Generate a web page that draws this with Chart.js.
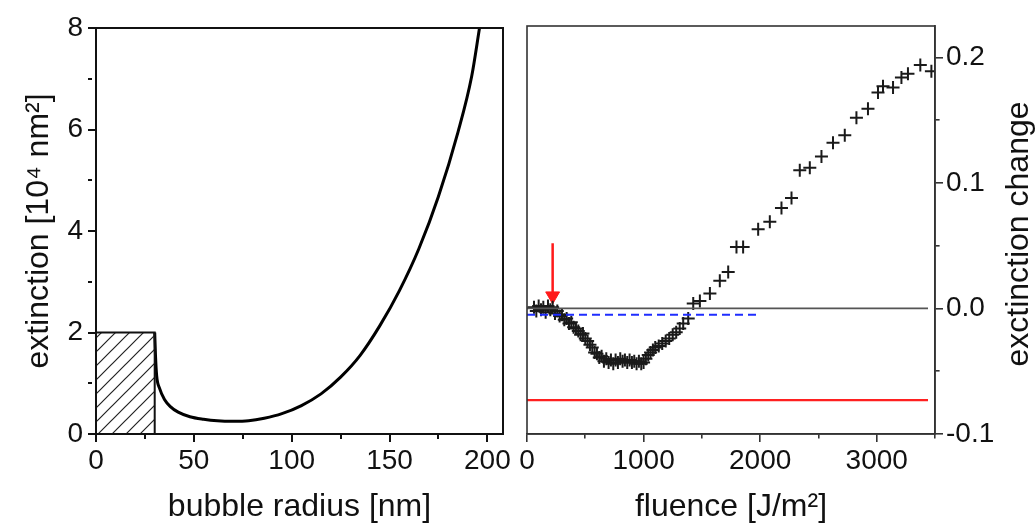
<!DOCTYPE html>
<html lang="en">
<head>
<meta charset="UTF-8">
<title>bubble extinction</title>
<script src="https://cdn.jsdelivr.net/npm/chart.js"></script>
<style>
    html, body { margin: 0; padding: 0; background: #fff; }
    #wrap { position: relative; width: 1035px; height: 528px; }
    .box { position: absolute; top: 0; height: 528px; }
    #left-box { left: 0; width: 515px; }
    #right-box { left: 515px; width: 520px; }
</style>
</head>
<body>
<div id="wrap">
    <div class="box" id="left-box"><canvas id="left-chart"></canvas></div>
    <div class="box" id="right-box"><canvas id="right-chart"></canvas></div>
</div>

<script>
    // ---- left panel: extinction vs bubble radius
    const radius     = [30, 30.4, 31, 32.5, 35, 38, 42, 48, 55, 62, 70, 78, 86, 95, 105, 115, 125, 135, 145, 155, 165, 175, 185, 192, 196];
    const extinction = [2.0, 1.55, 1.15, 0.9, 0.68, 0.54, 0.43, 0.34, 0.29, 0.26, 0.25, 0.26, 0.31, 0.40, 0.56, 0.79, 1.12, 1.55, 2.13, 2.82, 3.65, 4.68, 5.95, 7.05, 8.0];
    const boxRadius  = [0, 30, 30];
    const boxExt     = [2, 2, 0];
    const leftXTicks = [0, 25, 50, 75, 100, 125, 150, 175, 200];
    const leftYTicks = [0, 1, 2, 3, 4, 5, 6, 7, 8];

    // ---- right panel: extinction change vs fluence
    const fluence = [
        60, 80, 100, 120, 140, 160, 180, 200, 220, 240,
        260, 280, 300, 320, 340, 360, 380, 400, 420, 440,
        460, 480, 500, 520, 540, 560, 580, 600, 620, 640,
        660, 680, 700, 720, 740, 760, 780, 800, 820, 840,
        860, 880, 900, 920, 940, 960, 980, 1000, 1020, 1040,
        1060, 1080, 1100, 1130, 1160, 1190, 1220, 1250, 1280, 1310,
        1340, 1383, 1426, 1483, 1569, 1654, 1726, 1797, 1854, 1983,
        2083, 2183, 2269, 2340, 2426, 2526, 2625, 2726, 2826, 2925,
        3011, 3054, 3140, 3212, 3268, 3374, 3469
    ];
    const change = [
        0.001, -0.002, 0.002, -0.001, 0.001, -0.003, 0.002, -0.001, 0.001, -0.004,
        -0.002, -0.006, -0.005, -0.009, -0.008, -0.012, -0.011, -0.015, -0.016, -0.018,
        -0.021, -0.020, -0.024, -0.026, -0.029, -0.031, -0.035, -0.036, -0.039, -0.038,
        -0.042, -0.040, -0.043, -0.041, -0.044, -0.041, -0.043, -0.040, -0.042, -0.041,
        -0.043, -0.041, -0.043, -0.042, -0.044, -0.042, -0.044, -0.043, -0.040, -0.037,
        -0.035, -0.033, -0.031, -0.030, -0.028, -0.026, -0.024, -0.021, -0.019, -0.016,
        -0.012, -0.008, 0.004, 0.006, 0.012, 0.022, 0.029, 0.049, 0.049, 0.063,
        0.069, 0.080, 0.088, 0.110, 0.112, 0.121, 0.132, 0.138, 0.152, 0.159,
        0.172, 0.177, 0.176, 0.184, 0.187, 0.194, 0.189
    ];
    const zeroLineX   = [0, 3440];
    const zeroLineY   = [0, 0];
    const redLineX    = [0, 3440];
    const redLineY    = [-0.073, -0.073];
    const blueLineX   = [0, 1970];
    const blueLineY   = [-0.005, -0.005];
    const arrowX      = [220, 220];
    const arrowY      = [0.052, 0.012];
    const arrowHeadY  = 0.010;
    const rightXTicks = [0, 500, 1000, 1500, 2000, 2500, 3000, 3500];
    const rightYTicks = [-0.1, -0.05, 0, 0.05, 0.1, 0.15, 0.2];

    const pts = (xs, ys) => xs.map((x, i) => ({x: x, y: ys[i]}));

    const FONT = "'Liberation Sans', Arial, sans-serif";
    Chart.defaults.font.family = FONT;
    Chart.defaults.color = '#111';

    // hatch for the box under 30 nm
    function hatch() {
        const c = document.createElement('canvas');
        c.width = 14; c.height = 14;
        const g = c.getContext('2d');
        g.strokeStyle = '#222';
        g.lineWidth = 1.2;
        g.beginPath();
        g.moveTo(-2, 16); g.lineTo(16, -2);
        g.moveTo(-2, 2); g.lineTo(2, -2);
        g.moveTo(12, 16); g.lineTo(16, 12);
        g.stroke();
        return g.createPattern(c, 'repeat');
    }

    const frame = {
        id: 'frame',
        afterDatasetsDraw(chart, args, opts) {
            const a = chart.chartArea, ctx = chart.ctx;
            ctx.save();
            ctx.strokeStyle = opts.color;
            ctx.lineWidth = opts.width;
            ctx.strokeRect(a.left, a.top, a.right - a.left, a.bottom - a.top);
            ctx.restore();
        }
    };

    // right-hand axis title, read bottom to top like the left one
    const rightTitle = {
        id: 'rightTitle',
        afterDraw(chart, args, opts) {
            const a = chart.chartArea, ctx = chart.ctx;
            ctx.save();
            ctx.translate(chart.width - opts.offset, (a.top + a.bottom) / 2 + 4);
            ctx.rotate(-Math.PI / 2);
            ctx.font = opts.size + 'px ' + FONT;
            ctx.fillStyle = '#111';
            ctx.textAlign = 'center';
            ctx.textBaseline = 'middle';
            ctx.fillText(opts.text, 0, 0);
            ctx.restore();
        }
    };

    const tickFont = {size: 28};
    const titleFont = {size: 32};

    function axis(extra) {
        return Object.assign({
            type: 'linear',
            border: {display: true, color: '#111', width: 2}
        }, extra);
    }

    new Chart(document.getElementById('left-chart'), {
        type: 'line',
        data: {
            datasets: [
                {
                    data: pts(boxRadius, boxExt),
                    borderColor: '#111',
                    borderWidth: 2,
                    backgroundColor: hatch(),
                    fill: 'origin',
                    pointRadius: 0,
                    tension: 0
                },
                {
                    data: pts(radius, extinction),
                    borderColor: '#000',
                    borderWidth: 3,
                    pointRadius: 0,
                    fill: false,
                    cubicInterpolationMode: 'monotone'
                }
            ]
        },
        options: {
            responsive: true,
            maintainAspectRatio: false,
            animation: false,
            layout: {padding: {top: 28, right: 12, left: 0, bottom: 0}},
            plugins: {legend: {display: false}, tooltip: {enabled: false}, frame: {color: '#111', width: 2}},
            scales: {
                x: axis({
                    position: 'bottom', min: 0, max: 208,
                    afterBuildTicks: s => { s.ticks = leftXTicks.map(v => ({value: v})); },
                    afterFit: s => { s.height = 94; },
                    ticks: {font: tickFont, color: '#111', autoSkip: false, maxRotation: 0, padding: 2,
                        callback: v => v % 50 === 0 ? v : ''},
                    grid: {drawOnChartArea: false, tickLength: 8, color: '#111', lineWidth: 2,
                        tickBorderDash: c => (c.tick && c.tick.value % 50 !== 0) ? [4, 20] : []},
                    title: {display: true, text: 'bubble radius [nm]', font: titleFont, color: '#111', padding: {top: 0, bottom: 2}}
                }),
                y: axis({
                    position: 'left', min: 0, max: 8,
                    afterBuildTicks: s => { s.ticks = leftYTicks.map(v => ({value: v})); },
                    afterFit: s => { s.width = 96; },
                    ticks: {font: tickFont, color: '#111', autoSkip: false, padding: 5,
                        callback: v => v % 2 === 0 ? v : ''},
                    grid: {drawOnChartArea: false, tickLength: 8, color: '#111', lineWidth: 2,
                        tickBorderDash: c => (c.tick && c.tick.value % 2 !== 0) ? [4, 20] : []},
                    title: {display: true, text: 'extinction [10\u2074 nm\u00b2]', font: titleFont, color: '#111', padding: {top: 20, bottom: 0}}
                })
            }
        },
        plugins: [frame]
    });

    new Chart(document.getElementById('right-chart'), {
        type: 'scatter',
        data: {
            datasets: [
                {
                    type: 'line', data: pts(zeroLineX, zeroLineY),
                    borderColor: '#555', borderWidth: 1.8, pointRadius: 0, fill: false
                },
                {
                    type: 'line', data: pts(redLineX, redLineY),
                    borderColor: '#ff2020', borderWidth: 2.2, pointRadius: 0, fill: false
                },
                {
                    type: 'line', data: pts(blueLineX, blueLineY),
                    borderColor: '#1f2dff', borderWidth: 1.8, borderDash: [8, 5], pointRadius: 0, fill: false
                },
                {
                    data: pts(fluence, change),
                    pointStyle: 'cross', pointRadius: 6.5, borderWidth: 2,
                    borderColor: '#1a1a1a', backgroundColor: '#1a1a1a'
                },
                {
                    type: 'line', data: pts(arrowX, arrowY),
                    borderColor: '#ff1a1a', borderWidth: 2.5, pointRadius: 0, fill: false
                },
                {
                    data: [{x: arrowX[0], y: arrowHeadY}],
                    pointStyle: 'triangle', rotation: 180, pointRadius: 8,
                    backgroundColor: '#ff1a1a', borderColor: '#ff1a1a', borderWidth: 1
                }
            ]
        },
        options: {
            responsive: true,
            maintainAspectRatio: false,
            animation: false,
            layout: {padding: {top: 26, right: 0, left: 12, bottom: 0}},
            plugins: {
                legend: {display: false}, tooltip: {enabled: false},
                frame: {color: '#333', width: 1.6},
                rightTitle: {text: 'exctinction change', size: 32, offset: 16}
            },
            scales: {
                x: axis({
                    position: 'bottom', min: 0, max: 3500,
                    afterBuildTicks: s => { s.ticks = rightXTicks.map(v => ({value: v})); },
                    afterFit: s => { s.height = 94; },
                    ticks: {font: tickFont, color: '#111', autoSkip: false, maxRotation: 0, padding: 2,
                        callback: v => (v % 1000 === 0) ? v : ''},
                    grid: {drawOnChartArea: false, tickLength: 8, color: '#333', lineWidth: 1.6,
                        tickBorderDash: c => (c.tick && c.tick.value % 1000 !== 0) ? [4, 20] : []},
                    border: {display: true, color: '#333', width: 1.6},
                    title: {display: true, text: 'fluence [J/m\u00b2]', font: titleFont, color: '#111', padding: {top: 0, bottom: 2}}
                }),
                y: axis({
                    position: 'right', min: -0.1, max: 0.225,
                    afterBuildTicks: s => { s.ticks = rightYTicks.map(v => ({value: v})); },
                    afterFit: s => { s.width = 100; },
                    ticks: {font: tickFont, color: '#111', autoSkip: false, padding: 3,
                        callback: v => (Math.round(v * 100) % 10 === 0) ? v.toFixed(1) : ''},
                    grid: {drawOnChartArea: false, tickLength: 8, color: '#333', lineWidth: 1.6,
                        tickBorderDash: c => (c.tick && Math.round(c.tick.value * 100) % 10 !== 0) ? [4, 20] : []},
                    border: {display: true, color: '#333', width: 1.6},
                    title: {display: false}
                })
            }
        },
        plugins: [frame, rightTitle]
    });
</script>
</body>
</html>
